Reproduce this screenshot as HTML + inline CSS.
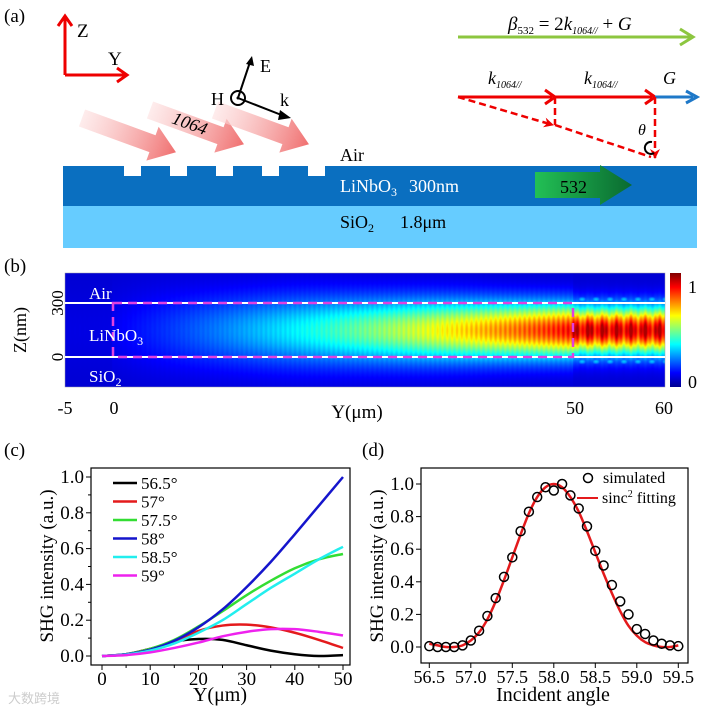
<!DOCTYPE html>
<html><head><meta charset="utf-8"><style>
body{margin:0;background:#fff;}
#wrap{position:relative;width:709px;height:711px;overflow:hidden;font-family:"Liberation Serif",serif;}
svg{position:absolute;left:0;top:0;}
#hm{position:absolute;left:65px;top:273px;}
</style></head><body>
<div id="wrap">
<canvas id="hm" width="600" height="114"></canvas>
<svg id="s" width="709" height="711" xmlns="http://www.w3.org/2000/svg" font-family="Liberation Serif, serif">
<defs>
<linearGradient id="pk" x1="0" x2="1"><stop offset="0" stop-color="#fde0e0" stop-opacity="0.6"/><stop offset="1" stop-color="#f07070"/></linearGradient>
<linearGradient id="gr" x1="0" x2="1"><stop offset="0" stop-color="#22c055"/><stop offset="1" stop-color="#0a6a30"/></linearGradient>
<linearGradient id="cb" x1="0" y1="1" x2="0" y2="0">
<stop offset="0" stop-color="#00008f"/><stop offset="0.125" stop-color="#0000ff"/><stop offset="0.375" stop-color="#00ffff"/><stop offset="0.625" stop-color="#ffff00"/><stop offset="0.875" stop-color="#ff0000"/><stop offset="1" stop-color="#800000"/></linearGradient>
<marker id="ar" viewBox="0 0 10 10" refX="9" refY="5" markerWidth="4" markerHeight="4" orient="auto"><path d="M0,0 L10,5 L0,10 L3,5z" fill="#e00"/></marker>
</defs>
<g>
<text x="4" y="22" font-size="19">(a)</text>
<g stroke="#e00" stroke-width="3" fill="none">
<path d="M65,75 V18 M58,26 L65,16 L72,26"/><path d="M65,75 H125 M117,68 L127,75 L117,82"/></g>
<text x="77" y="37" font-size="19">Z</text><text x="108" y="65" font-size="19">Y</text>
<rect x="63" y="166" width="634" height="40" fill="#0a6fc0"/>
<rect x="63" y="206" width="634" height="42" fill="#66ccff"/>
<g fill="#fff">
<rect x="124" y="165" width="17" height="11"/><rect x="170" y="165" width="17" height="11"/><rect x="216" y="165" width="17" height="11"/><rect x="262" y="165" width="17" height="11"/><rect x="308" y="165" width="17" height="11"/></g>
<text x="340" y="161" font-size="18">Air</text>
<text x="340" y="192" font-size="18" fill="#fff">LiNbO<tspan font-size="12" dy="4">3</tspan><tspan dy="-4" dx="12">300nm</tspan></text>
<text x="340" y="228" font-size="18">SiO<tspan font-size="12" dy="4">2</tspan><tspan dy="-4" dx="26">1.8μm</tspan></text>
<g>
<polygon transform="translate(82,118) rotate(20)" points="0,-9 75,-9 75,-18 100,0 75,18 75,9 0,9" fill="url(#pk)"/>
<polygon transform="translate(150,110) rotate(20)" points="0,-9 75,-9 75,-18 100,0 75,18 75,9 0,9" fill="url(#pk)"/>
<polygon transform="translate(215,110) rotate(20)" points="0,-9 75,-9 75,-18 100,0 75,18 75,9 0,9" fill="url(#pk)"/>
</g>
<text x="170" y="128" font-size="18" font-style="italic" transform="rotate(20 185 128)">1064</text>
<polygon points="535,172 600,172 600,165 632,185 600,205 600,198 535,198" fill="url(#gr)"/>
<text x="560" y="193" font-size="18">532</text>
<g stroke="#000" stroke-width="2" fill="none">
<circle cx="238" cy="98" r="7"/><path d="M238,98 L250,62"/><path d="M238,98 L284,116"/></g>
<polygon points="246,64 252,56 254,66" fill="#000"/><polygon points="280,110 291,118 278,120" fill="#000"/>
<circle cx="238" cy="98" r="1.5"/>
<text x="260" y="72" font-size="18">E</text><text x="211" y="105" font-size="18">H</text><text x="280" y="106" font-size="18">k</text>
<g>
<path d="M458,37 H690 M680,29 L693,37 L680,45" stroke="#8cc63f" stroke-width="3" fill="none"/>
<text x="508" y="30" font-size="19" font-style="italic">β<tspan font-size="11" dy="4" font-style="normal">532</tspan><tspan dy="-4" font-style="normal"> = 2</tspan>k<tspan font-size="10" dy="4">1064//</tspan><tspan dy="-4" font-style="normal"> + </tspan>G</text>
<path d="M458,97 H552 M545,90 L555,97 L545,104 M555,97 H652 M645,90 L655,97 L645,104" stroke="#e00" stroke-width="3" fill="none"/>
<path d="M655,97 H693 M686,91 L697,97 L686,103" stroke="#1e78c8" stroke-width="3" fill="none"/>
<text x="488" y="84" font-size="18" font-style="italic">k<tspan font-size="10" dy="4">1064//</tspan></text>
<text x="584" y="84" font-size="18" font-style="italic">k<tspan font-size="10" dy="4">1064//</tspan></text>
<text x="663" y="84" font-size="18" font-style="italic">G</text>
<path d="M555,97 V125 M555,125 L651,157 M655,97 V158" stroke="#e00" stroke-width="2.5" stroke-dasharray="7,4" fill="none" marker-end="url(#ar)"/>
<path d="M458,97 L553,125" stroke="#e00" stroke-width="2.5" stroke-dasharray="7,4" fill="none" marker-end="url(#ar)"/>
<path d="M652,142 A6,6 0 1 0 654,153" stroke="#000" stroke-width="2" fill="none"/>
<text x="638" y="135" font-size="16" font-style="italic">θ</text>
</g>
</g>
<g>
<text x="4" y="272" font-size="19">(b)</text>
<rect x="65" y="273" width="600" height="114" fill="none" stroke="#99a" stroke-width="0.5"/>
<path d="M65,303 H665 M65,357 H665" stroke="#fff" stroke-width="2"/>
<rect x="113" y="303" width="460" height="54" fill="none" stroke="#e040e0" stroke-width="2.5" stroke-dasharray="9,6"/>
<text x="89" y="299" font-size="17" fill="#fff">Air</text>
<text x="89" y="341" font-size="17" fill="#fff">LiNbO<tspan font-size="12" dy="4">3</tspan></text>
<text x="89" y="382" font-size="17" fill="#fff">SiO<tspan font-size="12" dy="4">2</tspan></text>
<rect x="670" y="273" width="11" height="114" fill="url(#cb)"/>
<text x="688" y="293" font-size="18">1</text><text x="688" y="388" font-size="18">0</text>
<text transform="translate(26,330) rotate(-90)" text-anchor="middle" font-size="18">Z(nm)</text>
<text transform="translate(63,303) rotate(-90)" text-anchor="middle" font-size="17">300</text>
<text transform="translate(63,357) rotate(-90)" text-anchor="middle" font-size="17">0</text>
<text x="65" y="414" font-size="18" text-anchor="middle">-5</text><text x="114" y="414" font-size="18" text-anchor="middle">0</text>
<text x="575" y="414" font-size="18" text-anchor="middle">50</text><text x="664" y="414" font-size="18" text-anchor="middle">60</text>
<text x="357" y="418" font-size="19" text-anchor="middle">Y(μm)</text>
</g>
<text x="4" y="456" font-size="19">(c)</text>
<text x="362" y="456" font-size="19">(d)</text>
<g id="pc"></g>
<g id="pd"></g>
<text x="8" y="703" font-size="13" fill="#ccc">大数跨境</text>
</svg>
</div>
<script>
// ---- panel c data ----
const cY=[0,5,10,15,20,25,30,35,40,45,50];
const cNames=["56.5°","57°","57.5°","58°","58.5°","59°"];
const cColors=["#000000","#e41a1c","#33dd33","#1515cc","#22eeee","#ee22ee"];
const c565=[0,0.01,0.04,0.08,0.095,0.09,0.06,0.03,0.01,0.0,0.005];
const c57=[0,0.01,0.04,0.08,0.14,0.17,0.175,0.16,0.13,0.09,0.045];
const c575=[0,0.01,0.04,0.09,0.165,0.25,0.34,0.42,0.49,0.54,0.57];
const c58=[0,0.01,0.035,0.085,0.16,0.26,0.385,0.525,0.68,0.84,1.0];
const c585=[0,0.008,0.03,0.07,0.13,0.2,0.29,0.38,0.46,0.54,0.61];
const c59=[0,0.005,0.02,0.045,0.075,0.11,0.135,0.15,0.15,0.135,0.115];
const cTicksX=[0,10,20,30,40,50];
const cTicksY=["0.0","0.2","0.4","0.6","0.8","1.0"];
// ---- panel d data ----
const dX=[56.5,56.6,56.7,56.8,56.9,57.0,57.1,57.2,57.3,57.4,57.5,57.6,57.7,57.8,57.9,58.0,58.1,58.2,58.3,58.4,58.5,58.6,58.7,58.8,58.9,59.0,59.1,59.2,59.3,59.4,59.5];
const dSim=[0.005,0,0,0,0.01,0.04,0.1,0.19,0.3,0.43,0.55,0.71,0.83,0.92,0.98,0.96,1.0,0.93,0.85,0.74,0.59,0.5,0.38,0.28,0.2,0.11,0.08,0.04,0.02,0.01,0.005];
const dFit=[0.02,0.01,0.0,0.0,0.01,0.04,0.09,0.17,0.28,0.41,0.55,0.69,0.82,0.92,0.98,1.0,0.98,0.92,0.83,0.71,0.58,0.45,0.33,0.22,0.13,0.07,0.03,0.01,0.0,0.0,0.01];
const dTicksX=["56.5","57.0","57.5","58.0","58.5","59.0","59.5"];
const dTicksY=["0.0","0.2","0.4","0.6","0.8","1.0"];

const NS="http://www.w3.org/2000/svg";
function mk(p,tag,at,txt){const e=document.createElementNS(NS,tag);for(const k in at)e.setAttribute(k,at[k]);if(txt!==undefined)e.textContent=txt;p.appendChild(e);return e;}
function smooth(pts){let d="M"+pts[0][0]+","+pts[0][1];for(let i=0;i<pts.length-1;i++){const p0=pts[i-1]||pts[i],p1=pts[i],p2=pts[i+1],p3=pts[i+2]||p2;
d+=" C"+(p1[0]+(p2[0]-p0[0])/6)+","+(p1[1]+(p2[1]-p0[1])/6)+" "+(p2[0]-(p3[0]-p1[0])/6)+","+(p2[1]-(p3[1]-p1[1])/6)+" "+p2[0]+","+p2[1];}return d;}

(function(){
const g=document.getElementById('pc');
const L=91,R=350,T=468,B=665;
const sx=v=>102+(v-0)*(343-102)/50, sy=v=>656-v*(656-477);
const fr=mk(g,'rect',{x:L,y:T,width:R-L,height:B-T,fill:'none',stroke:'#000','stroke-width':1.2});


cTicksX.forEach(v=>{mk(g,'line',{x1:sx(v),x2:sx(v),y1:B,y2:B+5,stroke:'#000'});const t=mk(g,'text',{x:sx(v),y:B+20,'font-size':19,'text-anchor':'middle'},v);});
for(let v=5;v<50;v+=10)mk(g,'line',{x1:sx(v),x2:sx(v),y1:B,y2:B+3,stroke:'#000'});
cTicksY.forEach(s=>{const v=parseFloat(s);mk(g,'line',{x1:L-5,x2:L,y1:sy(v),y2:sy(v),stroke:'#000'});const t=mk(g,'text',{x:L-7,y:sy(v)+6,'font-size':19,'text-anchor':'end'},s);});
for(let v=0.1;v<1;v+=0.2)mk(g,'line',{x1:L-3,x2:L,y1:sy(v),y2:sy(v),stroke:'#000'});
const xt=mk(g,'text',{x:220,y:701,'font-size':20,'text-anchor':'middle'},'Y(μm)');

const yt=mk(g,'text',{transform:'translate(53,566) rotate(-90)','font-size':19,'text-anchor':'middle'},'SHG intensity (a.u.)');

const series=[c565,c57,c575,c58,c585,c59];
series.forEach((s,i)=>{const p=mk(g,'path',{d:smooth(s.map((v,j)=>[sx(cY[j]),sy(v)])),fill:'none',stroke:cColors[i],'stroke-width':2.5});

const yy=483+i*18.5;const l=mk(g,'line',{x1:113,x2:137,y1:yy,y2:yy,stroke:cColors[i],'stroke-width':2.5});

mk(g,'text',{x:141,y:yy+6,'font-size':17},cNames[i]);});
})();

(function(){
const g=document.getElementById('pd');
const L=421,R=688,T=468,B=663;
const sx=v=>429.3+(v-56.5)*(678.3-429.3)/3, sy=v=>647-v*(647-484);
const fr=mk(g,'rect',{x:L,y:T,width:R-L,height:B-T,fill:'none',stroke:'#000','stroke-width':1.2});

dTicksX.forEach(s=>{const v=parseFloat(s);mk(g,'line',{x1:sx(v),x2:sx(v),y1:B,y2:B+5,stroke:'#000'});const t=mk(g,'text',{x:sx(v),y:B+20,'font-size':18,'text-anchor':'middle'},s);});
dTicksY.forEach(s=>{const v=parseFloat(s);mk(g,'line',{x1:L-5,x2:L,y1:sy(v),y2:sy(v),stroke:'#000'});const t=mk(g,'text',{x:L-7,y:sy(v)+6,'font-size':19,'text-anchor':'end'},s);});
const xt=mk(g,'text',{x:553,y:701,'font-size':20,'text-anchor':'middle'},'Incident angle');

const yt=mk(g,'text',{transform:'translate(383,566) rotate(-90)','font-size':19,'text-anchor':'middle'},'SHG intensity (a.u.)');

const f=mk(g,'path',{d:smooth(dFit.map((v,j)=>[sx(dX[j]),sy(v)])),fill:'none',stroke:'#e41a1c','stroke-width':2.5});

dSim.forEach((v,j)=>{const c=mk(g,'circle',{cx:sx(dX[j]),cy:sy(v),r:4.5,fill:'none',stroke:'#000','stroke-width':1.5});
});
const lc=mk(g,'circle',{cx:588,cy:478,r:4.5,fill:'none',stroke:'#000','stroke-width':1.5});

mk(g,'text',{x:603,y:483,'font-size':16},'simulated');
const ll=mk(g,'line',{x1:577,x2:598,y1:498,y2:498,stroke:'#e41a1c','stroke-width':2});

const lt=mk(g,'text',{x:602,y:503,'font-size':16},'sinc');mk(lt,'tspan',{'font-size':10,dy:-6},'2');mk(lt,'tspan',{dy:6},' fitting');
})();

(function(){
const cv=document.getElementById('hm'),ctx=cv.getContext('2d');const W=600,H=114;
const img=ctx.createImageData(W,H);
const cl=v=>Math.max(0,Math.min(1,v));
for(let x=0;x<W;x++){const y=-5+x*65/W;
let A,s;
if(y<0){A=0.02;s=30;}else if(y<=50){A=0.04+0.86*Math.pow(y/50,1.2);s=28-10*(y/50);}else{A=0.95;s=16;}
for(let r=0;r<H;r++){const d=r-57;let I=A*Math.exp(-(d*d)/(2*s*s));
I+=0.06*Math.cos(x*1.3)*A*Math.exp(-(d*d)/(2*s*s));
if(y>50){const e=Math.abs(d)-31;const side=0.3*(0.5+0.5*Math.cos(x*0.45));I=Math.max(I,side*Math.exp(-e*e/8));I*=1-0.08*Math.cos(x*0.45);}
const t=0.08+0.88*cl(I);
const R=cl(1.5-Math.abs(4*t-3)),G=cl(1.5-Math.abs(4*t-2)),B=cl(1.5-Math.abs(4*t-1));
const k=(r*W+x)*4;img.data[k]=R*255;img.data[k+1]=G*255;img.data[k+2]=B*255;img.data[k+3]=255;}}
ctx.putImageData(img,0,0);
})();
</script>
</body></html>
